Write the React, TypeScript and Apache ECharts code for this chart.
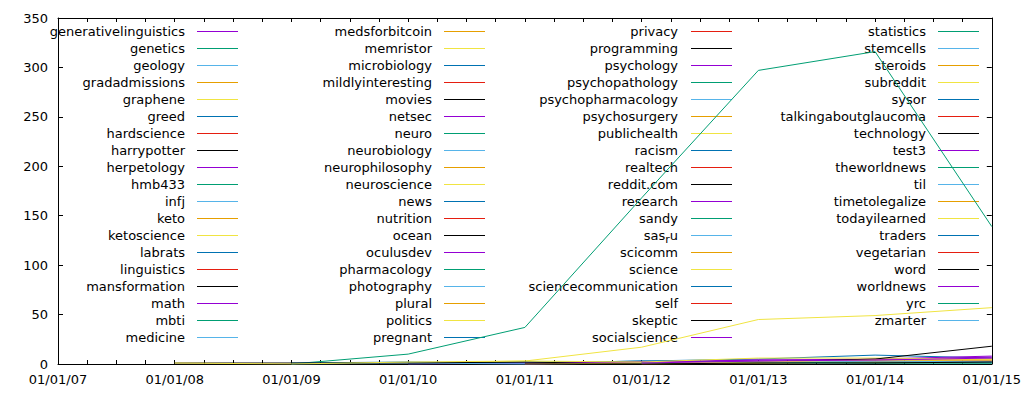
import React, { useEffect, useRef } from "react";
import * as echarts from "echarts";

const YEARS = [2007, 2008, 2009, 2010, 2011, 2012, 2013, 2014, 2015];
const X_LABELS = ["01/01/07", "01/01/08", "01/01/09", "01/01/10", "01/01/11", "01/01/12", "01/01/13", "01/01/14", "01/01/15"];

const SERIES_NAMES = [
  "generativelinguistics", "genetics", "geology", "gradadmissions", "graphene", "greed", "hardscience", "harrypotter",
  "herpetology", "hmb433", "infj", "keto", "ketoscience", "labrats", "linguistics", "mansformation", "math", "mbti", "medicine",
  "medsforbitcoin", "memristor", "microbiology", "mildlyinteresting", "movies", "netsec", "neuro", "neurobiology",
  "neurophilosophy", "neuroscience", "news", "nutrition", "ocean", "oculusdev", "pharmacology", "photography", "plural",
  "politics", "pregnant",
  "privacy", "programming", "psychology", "psychopathology", "psychopharmacology", "psychosurgery", "publichealth", "racism",
  "realtech", "reddit.com", "research", "sandy", "sas_ru", "scicomm", "science", "sciencecommunication", "self", "skeptic",
  "socialscience",
  "statistics", "stemcells", "steroids", "subreddit", "sysor", "talkingaboutglaucoma", "technology", "test3", "theworldnews",
  "til", "timetolegalize", "todayilearned", "traders", "vegetarian", "word", "worldnews", "yrc", "zmarter",
];

const PALETTE = ["#9400d3", "#009e73", "#56b4e9", "#e69f00", "#f0e442", "#0072b2", "#e51e10", "#000000"];

// yearly values, 2007..2015
const neuro = [null, null, 0, 10, 37, 168, 297, 316, 139];
const neuroscience = [null, null, null, 1, 3, 17, 45, 49, 57];
const technology = [null, null, null, null, null, 1, 2, 5, 18];
const science = [null, 1, 0, 2, 3, 2, 6, 6, 5];
const redditCom = [null, 1, 1, 1, 2, 0, null, null, null];
const news = [null, null, 1, 2, 1, 3, 5, 9, 6];
const psychopharmacology = [null, null, 0, 1, 0, 1, 2, 3, 3];
const psychology = [null, null, null, 0, 1, 2, 4, 5, 8];
const research = [null, null, null, null, 0, 2, 4, 4, 7];
const realtech = [null, null, null, null, null, 1, 2, 4, 4];
const scicomm = [null, null, null, null, null, 0, 1, 2, 5];
const pharmacology = [null, null, null, 0, 2, 2, 1, 1, 1];
const labrats = [null, null, null, null, 1, 3, 2, 2, 2];
const til = [null, null, null, null, null, 1, 2, 3, 2];
const worldnews = [null, null, null, null, null, 1, 3, 4, 6];
const word = [null, null, null, null, 0, 0, 1, 1, 2];
const nutrition = [null, null, null, null, 0, 1, 2, 2, 3];
const statistics = [null, null, null, null, null, 1, 2, 1, 1];
const neurophilosophy = [null, null, null, null, null, 1, 1, 2, 3];
const todayilearned = [null, null, null, null, 0, 1, 2, 4, 4];
const medicine = [null, null, null, 1, 0, 1, 1, 2, 1];

const VALUES: Record<string, (number | null)[]> = {
  neuro, neuroscience, technology, science, "reddit.com": redditCom, news, psychopharmacology, psychology,
  research, realtech, scicomm, pharmacology, labrats, til, worldnews, word, nutrition, statistics,
  neurophilosophy, todayilearned, medicine,
};

const FONT = "DejaVu Sans";
const COL_TEXT_RIGHT = [185, 432, 678, 926];
const COL_LINE_LEFT = [197, 444, 691, 938];
const ROWS_PER_COL = 19;

export default function App() {
  const ref = useRef<HTMLDivElement>(null);
  useEffect(() => {
    if (!ref.current) return;
    const chart = echarts.init(ref.current, undefined, { renderer: "svg" });

    const series = SERIES_NAMES.map((name, i) => {
      const arr = VALUES[name];
      const data: [number, number][] = [];
      if (arr) arr.forEach((v, k) => { if (v !== null) data.push([YEARS[k], v]); });
      return {
        type: "line",
        name,
        data,
        showSymbol: false,
        symbol: "none",
        color: PALETTE[i % 8],
        lineStyle: { width: 1, color: PALETTE[i % 8] },
        xAxisIndex: 0,
        yAxisIndex: 0,
      };
    });

    const graphics: any[] = [];
    SERIES_NAMES.forEach((name, i) => {
      const col = Math.floor(i / ROWS_PER_COL);
      const row = i % ROWS_PER_COL;
      const y = 31 + row * 17;
      const isSas = name === "sas_ru";
      graphics.push({
        type: "text",
        x: COL_TEXT_RIGHT[col],
        y,
        style: {
          text: isSas ? "sas{sub|r}u" : name,
          fontSize: 13,
          fontFamily: FONT,
          fill: "#000",
          align: "right",
          verticalAlign: "middle",
          textAlign: "right",
          textVerticalAlign: "middle",
          rich: isSas ? { sub: { fontSize: 11, fontFamily: FONT, padding: [8, 0, 0, 0] } } : undefined,
        },
      });
      graphics.push({
        type: "line",
        shape: { x1: COL_LINE_LEFT[col], y1: y + 0.5, x2: COL_LINE_LEFT[col] + 41, y2: y + 0.5 },
        style: { stroke: PALETTE[i % 8], lineWidth: 1 },
      });
    });

    const axisBase = {
      type: "value",
      axisLine: { show: true, onZero: false, lineStyle: { color: "#000", width: 1 } },
      splitLine: { show: false },
    };

    chart.setOption({
      animation: false,
      grid: { left: 58, right: 28, top: 18, bottom: 36, containLabel: false },
      legend: { show: false },
      tooltip: { show: false },
      xAxis: [
        {
          ...axisBase,
          position: "bottom",
          min: 2007,
          max: 2015,
          interval: 1,
          axisTick: { show: true, inside: true, length: 4, lineStyle: { color: "#000" } },
          minorTick: { show: true, splitNumber: 4, length: 4, lineStyle: { color: "#000" } },
          minorSplitLine: { show: false },
          axisLabel: {
            show: true,
            margin: 9,
            color: "#000",
            fontSize: 13,
            fontFamily: FONT,
            formatter: (v: number) => X_LABELS[Math.round(v) - YEARS[0]] ?? "",
          },
        },
        {
          ...axisBase,
          position: "top",
          min: 2007,
          max: 2015,
          interval: 1,
          axisTick: { show: true, inside: true, length: 4, lineStyle: { color: "#000" } },
          minorTick: { show: true, splitNumber: 4, length: 4, lineStyle: { color: "#000" } },
          minorSplitLine: { show: false },
          axisLabel: { show: false },
        },
      ],
      yAxis: [
        {
          ...axisBase,
          position: "left",
          min: 0,
          max: 350,
          interval: 50,
          axisTick: { show: true, inside: true, length: 5, lineStyle: { color: "#000" } },
          axisLabel: { show: true, margin: 10, color: "#000", fontSize: 13, fontFamily: FONT },
        },
        {
          ...axisBase,
          position: "right",
          min: 0,
          max: 350,
          interval: 50,
          axisTick: { show: true, inside: true, length: 5, lineStyle: { color: "#000" } },
          axisLabel: { show: false },
        },
      ],
      series,
      graphic: graphics,
    });

    return () => chart.dispose();
  }, []);

  return (
    <div
      ref={ref}
      style={{ position: "absolute", left: 0, top: 0, width: 1024, height: 400, background: "#fff" }}
    />
  );
}
